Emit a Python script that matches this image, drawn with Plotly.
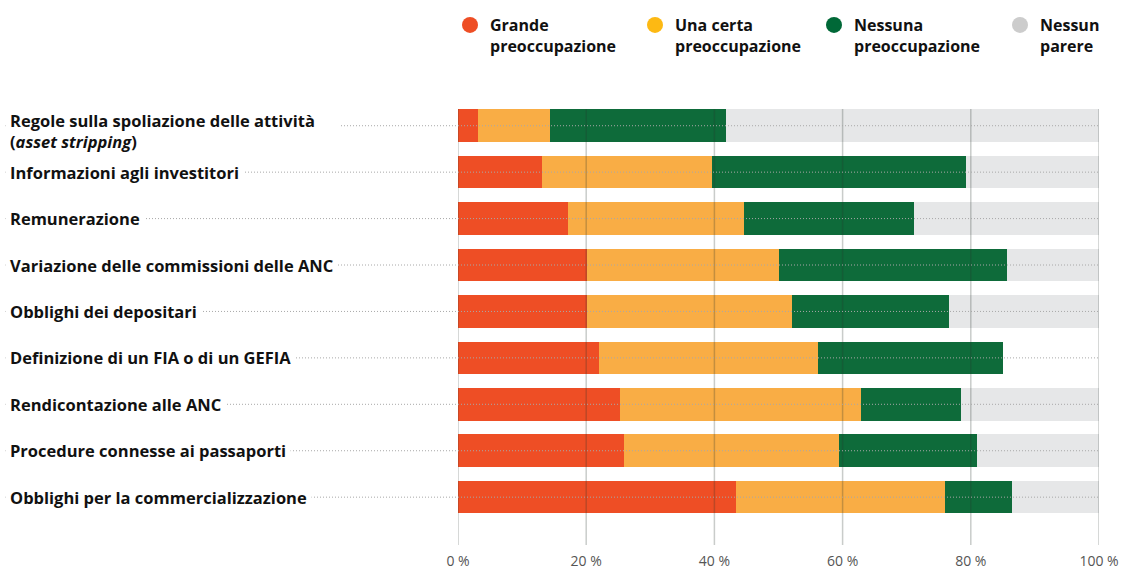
import plotly.graph_objects as go

categories = [
    "Regole sulla spoliazione delle attività<br>(<i>asset stripping</i>)",
    "Informazioni agli investitori",
    "Remunerazione",
    "Variazione delle commissioni delle ANC",
    "Obblighi dei depositari",
    "Definizione di un FIA o di un GEFIA",
    "Rendicontazione alle ANC",
    "Procedure connesse ai passaporti",
    "Obblighi per la commercializzazione",
]
series_names = ["Grande<br>preoccupazione", "Una certa<br>preoccupazione",
                "Nessuna<br>preoccupazione", "Nessun<br>parere"]
grande = [3.1, 13.1, 17.2, 20.1, 20.2, 22.0, 25.3, 25.9, 43.4]
certa = [11.2, 26.5, 27.4, 29.9, 31.9, 34.2, 37.6, 33.6, 32.5]
nessuna = [27.5, 39.6, 26.5, 35.6, 24.5, 28.9, 15.6, 21.5, 10.5]
parere = [58.2, 20.8, 28.9, 14.4, 23.4, 0.0, 21.5, 19.0, 13.6]
tick_vals = [0, 20, 40, 60, 80, 100]
tick_text = ["0 %", "20 %", "40 %", "60 %", "80 %", "100 %"]

bar_colors = ["#EE4E25", "#F9AD45", "#0E6B3A", "#E6E7E8"]
legend_colors = ["#EE4E25", "#FDB913", "#006837", "#CCCCCC"]

W, H = 1123, 570
ML, MR, MT, MB = 458, 24, 109, 25
PW = W - ML - MR
PH = H - MT - MB
legend_px = [450, 635, 814, 1000]  # left edge of each legend item (pixels)

ids = list(range(len(categories)))
fig = go.Figure()
for name, vals, col in zip(series_names, [grande, certa, nessuna, parere], bar_colors):
    fig.add_trace(go.Bar(x=vals, y=ids, orientation="h", name=name,
                         marker=dict(color=col, line=dict(width=0)),
                         width=0.7, showlegend=False, hoverinfo="x"))

legend_font = dict(family="Open Sans", size=16, color="#111111", weight="bold")
for k, (name, col) in enumerate(zip(series_names, legend_colors)):
    lname = "legend" if k == 0 else f"legend{k + 1}"
    fig.add_trace(go.Scatter(x=[None], y=[None], mode="markers", name=name,
                             legend=lname,
                             marker=dict(symbol="circle", size=22, color=col)))
    fig.update_layout({lname: dict(
        x=(legend_px[k] - ML) / PW, xanchor="left", xref="paper",
        y=1 + (MT - 8) / PH, yanchor="top", yref="paper",
        font=legend_font, itemsizing="trace", valign="top",
        bgcolor="rgba(0,0,0,0)", borderwidth=0)})

# gridlines above bars
for v in tick_vals:
    fig.add_shape(type="line", xref="x", yref="paper", x0=v, x1=v, y0=0, y1=1,
                  line=dict(color="rgba(40,50,45,0.25)", width=1.5), layer="above")

# dotted leader lines
x_left = -(ML - 5) / PW
for i in ids:
    fig.add_shape(type="line", xref="paper", yref="y", x0=x_left, x1=1, y0=i, y1=i,
                  line=dict(color="#a8a8a8", width=1, dash="1px,2px"), layer="above")

for i, c in enumerate(categories):
    label = c.replace("<br>", "&nbsp;" * 5 + "<br>", 1) if i == 0 else c
    fig.add_annotation(xref="paper", yref="y", x=x_left, y=i, xanchor="left",
                       yanchor="middle", text=f"<b>{label}</b>",
                       showarrow=False, align="left", bgcolor="white", borderpad=4,
                       yshift=-5 if i == 0 else 0,
                       font=dict(family="Open Sans", size=16.5, color="#111111"))

fig.update_layout(
    width=W, height=H,
    margin=dict(l=ML, r=MR, t=MT, b=MB, autoexpand=False),
    barmode="stack",
    plot_bgcolor="white", paper_bgcolor="white",
    xaxis=dict(range=[0, 100], tickvals=tick_vals, ticktext=tick_text,
               showgrid=False, zeroline=False, showline=False, automargin=False,
               tickfont=dict(family="Open Sans", size=14, color="#555555"),
               ticklabelstandoff=6),
    yaxis=dict(range=[9.03, -0.36], showticklabels=False, showgrid=False,
               zeroline=False, showline=False, automargin=False),
    showlegend=True,
)

fig.write_html("out.html", config={"displayModeBar": False},
               post_script="document.body.style.margin='0';")
